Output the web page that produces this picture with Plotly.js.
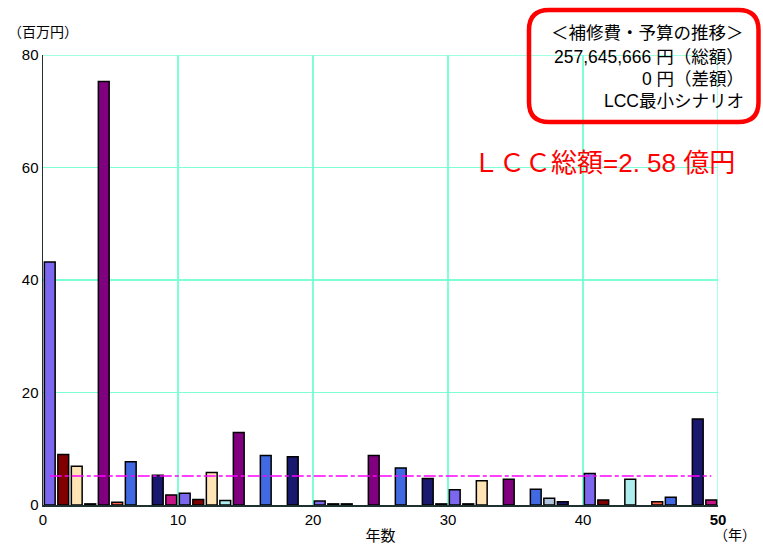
<!DOCTYPE html>
<html>
<head>
<meta charset="utf-8">
<script src="https://cdn.plot.ly/plotly-3.0.1.min.js"></script>
<style>html,body{margin:0;padding:0;background:#fff;}#chart{width:763px;height:544px;}</style>
</head>
<body>
<div id="chart"></div>
<script>
// Year index (bar i spans year i..i+1)
const years = Array.from({length: 50}, (_, i) => i);
// Repair cost per year (million yen); null = no cost that year
const costs = [43.2, 9.0, 6.9, 0.2, 75.3, 0.5, 7.7, null, 5.3, 1.8,
               2.1, 1.0, 5.8, 0.8, 12.9, null, 8.8, null, 8.6, null,
               0.7, 0.2, 0.2, null, 8.8, null, 6.6, null, 4.7, 0.2,
               2.7, 0.2, 4.3, null, 4.6, null, 2.8, 1.2, 0.6, null,
               5.6, 0.9, null, 4.6, null, 0.6, 1.4, null, 15.3, 0.9];
const barColors = ['#7B68EE','#800000','#FFE4B5','#1a1a1a','#800080','#FF6347','#4169E1','#fff','#191970','#C71585',
                   '#7B68EE','#800000','#FFE4B5','#AFEEEE','#800080','#fff','#4169E1','#fff','#191970','#fff',
                   '#7B68EE','#1a1a1a','#1a1a1a','#fff','#800080','#fff','#4169E1','#fff','#191970','#1a1a1a',
                   '#7B68EE','#1a1a1a','#FFE4B5','#fff','#800080','#fff','#4169E1','#B0C4DE','#191970','#fff',
                   '#7B68EE','#800000','#fff','#AFEEEE','#fff','#FF6347','#4169E1','#fff','#191970','#C71585'];
const averageCost = 5.15;
const avgX = [0.5, 49.5];
const xTicks = [0, 10, 20, 30, 40, 50];
const xTickText = ['0', '10', '20', '30', '40', '<b>50</b>'];
const yTicks = [0, 20, 40, 60, 80];
const infoLines = ['＜補修費・予算の推移＞', '257,645,666 円（総額）', '0 円（差額）', 'LCC最小シナリオ'];
const lccText = 'ＬＣＣ総額=2. 58 億円';

const barTrace = {
  type: 'bar',
  x: years.map(y => y + 0.5),
  y: costs,
  width: 0.8,
  marker: {color: barColors, line: {color: '#000', width: 1.5}},
  hoverinfo: 'x+y'
};
const avgTrace = {
  type: 'scatter', mode: 'lines',
  x: avgX, y: [averageCost, averageCost],
  line: {color: '#FF00FF', width: 1.5, dash: '12px,3px,4px,3px'}
};

// rounded rectangle in paper coords
const L = 43, R = 718, T = 55, B = 505;
const px = v => (v - L) / (R - L);
const py = v => (B - v) / (B - T);
const bx0 = 529, bx1 = 758.5, by0 = 10, by1 = 122, rr = 20;
const path = `M ${px(bx0+rr)} ${py(by0)} L ${px(bx1-rr)} ${py(by0)} Q ${px(bx1)} ${py(by0)} ${px(bx1)} ${py(by0+rr)} ` +
  `L ${px(bx1)} ${py(by1-rr)} Q ${px(bx1)} ${py(by1)} ${px(bx1-rr)} ${py(by1)} ` +
  `L ${px(bx0+rr)} ${py(by1)} Q ${px(bx0)} ${py(by1)} ${px(bx0)} ${py(by1-rr)} ` +
  `L ${px(bx0)} ${py(by0+rr)} Q ${px(bx0)} ${py(by0)} ${px(bx0+rr)} ${py(by0)} Z`;

const font = 'Liberation Sans, Noto Sans CJK JP, sans-serif';
const lineYs = [33, 57, 79, 101];
const annotations = infoLines.map((t, i) => ({
  xref: 'paper', yref: 'paper', x: px(746), y: py(lineYs[i]),
  xanchor: 'right', yanchor: 'middle', showarrow: false,
  text: t, font: {family: font, size: 17.5, color: '#000'}
}));
annotations.push({xref: 'paper', yref: 'paper', x: px(737), y: py(163), xanchor: 'right', yanchor: 'middle',
  showarrow: false, text: lccText, font: {family: font, size: 26, color: '#FF0000'}});
annotations.push({xref: 'paper', yref: 'paper', x: px(6), y: py(32), xanchor: 'left', yanchor: 'middle',
  showarrow: false, text: '（百万円）', font: {family: font, size: 14, color: '#000'}});
annotations.push({xref: 'paper', yref: 'paper', x: px(735), y: py(535), xanchor: 'center', yanchor: 'middle',
  showarrow: false, text: '（年）', font: {family: font, size: 14, color: '#000'}});

const layout = {
  width: 763, height: 544,
  margin: {l: L, r: 763 - R, t: T, b: 544 - B, pad: 0},
  paper_bgcolor: '#fff', plot_bgcolor: '#fff',
  showlegend: false,
  bargap: 0,
  font: {family: font, size: 14, color: '#000'},
  xaxis: {
    range: [0, 50], tickvals: xTicks, ticktext: xTickText,
    showgrid: true, gridcolor: '#7FFFD4', gridwidth: 1.3,
    showline: true, linecolor: '#1f3030', linewidth: 1.5,
    zeroline: false, ticks: '', ticklen: 0,
    tickfont: {family: font, size: 15, color: '#000'},
    title: {text: '年数', font: {family: font, size: 15, color: '#000'}, standoff: 6}
  },
  yaxis: {
    range: [0, 80], tickvals: yTicks,
    showgrid: true, gridcolor: '#7FFFD4', gridwidth: 1.3,
    showline: true, linecolor: '#1f3030', linewidth: 1.5,
    zeroline: false, ticks: '',
    tickfont: {family: font, size: 15, color: '#000'}
  },
  shapes: [
    {type: 'line', xref: 'x', yref: 'paper', x0: 50, x1: 50, y0: 0, y1: 1, line: {color: '#7FFFD4', width: 1.3}, layer: 'below'},
    {type: 'line', xref: 'paper', yref: 'y', x0: 0, x1: 1, y0: 80, y1: 80, line: {color: '#7FFFD4', width: 1.3}, layer: 'below'},
    {type: 'path', xref: 'paper', yref: 'paper', path: path, line: {color: '#FF0000', width: 4.5}, fillcolor: 'rgba(0,0,0,0)'}
  ],
  annotations: annotations
};

Plotly.newPlot('chart', [barTrace, avgTrace], layout, {displayModeBar: false, staticPlot: true});
</script>
</body>
</html>
